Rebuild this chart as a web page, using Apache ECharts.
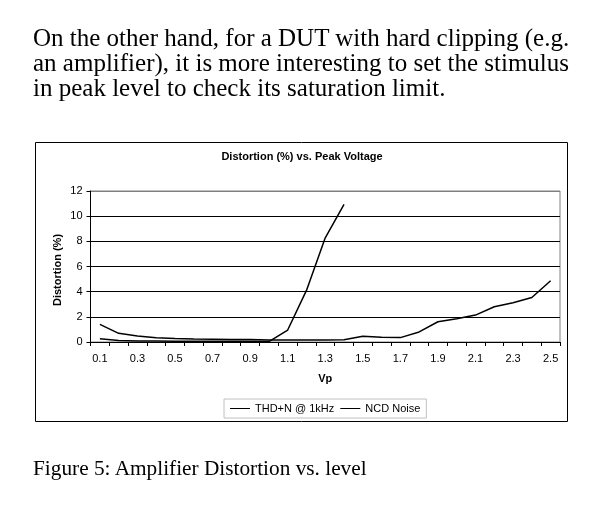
<!DOCTYPE html>
<html>
<head>
<meta charset="utf-8">
<script src="https://cdn.jsdelivr.net/npm/echarts@6/dist/echarts.min.js"></script>
<style>
  html, body { margin: 0; padding: 0; background: #fff; width: 604px; height: 509px; overflow: hidden; }
  #chart { position: absolute; left: 0; top: 0; width: 604px; height: 509px; }
  .para { position: absolute; left: 33px; top: 25px; font-family: "Liberation Serif", "Times New Roman", serif; font-size: 25px; line-height: 25px; color: #000; white-space: nowrap; }
  .cap { position: absolute; left: 33px; top: 456px; font-family: "Liberation Serif", "Times New Roman", serif; font-size: 21.3px; line-height: 25px; color: #000; white-space: nowrap; }
</style>
</head>
<body>
<div id="chart"></div>
<div class="para">On the other hand, for a DUT with hard clipping (e.g.<br>an amplifier), it is more interesting to set the stimulus<br>in peak level to check its saturation limit.</div>
<div class="cap">Figure 5: Amplifier Distortion vs. level</div>
<script>
const categories = ['0.1','0.2','0.3','0.4','0.5','0.6','0.7','0.8','0.9','1.0','1.1','1.2','1.3','1.4','1.5','1.6','1.7','1.8','1.9','2.0','2.1','2.2','2.3','2.4','2.5'];
const thdnValues = [1.4, 0.69, 0.48, 0.34, 0.27, 0.24, 0.22, 0.2, 0.2, 0.15, 0.15, 0.15, 0.15, 0.18, 0.45, 0.37, 0.35, 0.8, 1.61, 1.85, 2.14, 2.8, 3.12, 3.54, 4.87];
const ncdValues = [0.25, 0.12, 0.08, 0.07, 0.06, 0.06, 0.05, 0.05, 0.05, 0.03, 0.95, 4.1, 8.28, 10.93, null, null, null, null, null, null, null, null, null, null, null];
const seriesNames = ['THD+N @ 1kHz', 'NCD Noise'];
const yTicks = { min: 0, max: 12, interval: 2 };

const chart = echarts.init(document.getElementById('chart'), null, { renderer: 'canvas' });
const font = 'Liberation Sans, Arial, sans-serif';
chart.setOption({
  animation: false,
  backgroundColor: '#fff',
  title: {
    text: 'Distortion (%) vs. Peak Voltage',
    left: 'center', top: 146,
    textStyle: { fontFamily: font, fontSize: 11, fontWeight: 'bold', color: '#000' }
  },
  legend: {
    data: seriesNames,
    left: 224, top: 399,
    icon: 'rect',
    itemWidth: 20, itemHeight: 1, itemGap: 6,
    padding: [4, 6, 4, 6],
    borderColor: '#c0c0c0', borderWidth: 1,
    textStyle: { fontFamily: font, fontSize: 11, color: '#000' }
  },
  grid: {
    left: 90.5, right: 44, top: 191, bottom: 167,
    containLabel: false,
    show: true, borderColor: '#808080', borderWidth: 1
  },
  xAxis: {
    type: 'category',
    data: categories,
    boundaryGap: true,
    name: 'Vp',
    nameLocation: 'middle',
    nameGap: 31,
    nameTextStyle: { fontFamily: font, fontSize: 11, fontWeight: 'bold', color: '#000' },
    axisLine: { lineStyle: { color: '#000', width: 1 } },
    axisTick: { show: true, interval: 0, length: 4, inside: false, lineStyle: { color: '#000' } },
    axisLabel: { interval: 1, fontFamily: font, fontSize: 11, color: '#000', margin: 11 },
    splitLine: { show: false }
  },
  yAxis: {
    type: 'value',
    min: yTicks.min, max: yTicks.max, interval: yTicks.interval,
    axisLine: { show: true, lineStyle: { color: '#000', width: 1 } },
    axisTick: { show: true, length: 4, inside: false, lineStyle: { color: '#000' } },
    axisLabel: { fontFamily: font, fontSize: 11, color: '#000', margin: 8 },
    splitLine: { show: true, lineStyle: { color: ['#000','#000','#000','#000','#000','#000','#808080'], width: 1 } }
  },
  graphic: [
    { type: 'rect', shape: { x: 35.5, y: 142.5, width: 532, height: 279 }, style: { fill: null, stroke: '#000', lineWidth: 1 }, silent: true, z: 100 },
    { type: 'text', x: 58, y: 270, rotation: Math.PI / 2, style: { text: 'Distortion (%)', fontFamily: font, fontSize: 11, fontWeight: 'bold', fill: '#000', align: 'center', verticalAlign: 'middle' } }
  ],
  series: [
    { name: seriesNames[0], type: 'line', data: thdnValues, symbol: 'none', showSymbol: false, lineStyle: { color: '#000', width: 1.5 }, itemStyle: { color: '#000' } },
    { name: seriesNames[1], type: 'line', data: ncdValues, symbol: 'none', showSymbol: false, connectNulls: false, lineStyle: { color: '#000', width: 1.5 }, itemStyle: { color: '#000' } }
  ]
});
</script>
</body>
</html>
